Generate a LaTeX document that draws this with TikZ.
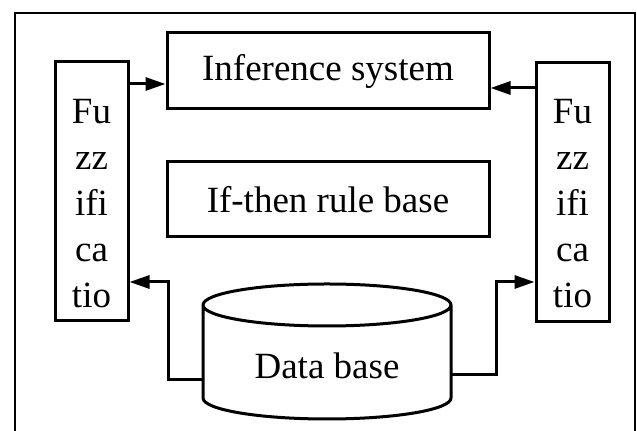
\documentclass[tikz,border=0pt]{standalone}
\usepackage{fontspec}
\setmainfont{Liberation Serif}
\usetikzlibrary{arrows.meta}
\begin{document}
\begin{tikzpicture}[x=0.5pt,y=-0.5pt,
  box/.style={draw,line width=1.5pt,rectangle,inner sep=0pt},
  lbl/.style={font=\fontsize{18.5}{23}\selectfont,inner sep=0pt,align=center},
  arr/.style={line width=1.5pt,-{Triangle[length=10pt,width=6.5pt]}},
  conn/.style={line width=1.5pt}]
\useasboundingbox (0,0) rectangle (637,431);
% outer frame (bottom edge outside the picture)
\draw[line width=1pt] (15,431) -- (15,13) -- (635,13) -- (635,431);
% fuzzification boxes
\node[box,minimum width=36.5pt,minimum height=129.5pt] (fl) at (91.5,191.5) {};
\node[lbl] (flt) at (91.5,204) {Fu\\zz\\ifi\\ca\\tio};
\node[box,minimum width=36.5pt,minimum height=129.5pt] (fr) at (572.5,192) {};
\node[lbl] (frt) at (572.5,204) {Fu\\zz\\ifi\\ca\\tio};
% inference and rule base
\node[box,lbl,minimum width=161pt,minimum height=38pt] (inf) at (328,71) {Inference system};
\node[box,lbl,minimum width=161pt,minimum height=37.5pt] (ifr) at (328,199.5) {If-then rule base};
% data base cylinder
\draw[line width=1.5pt,line join=round] (203,305) arc[start angle=180,end angle=0,x radius=124,y radius=21]
  -- (451,398) arc[start angle=0,end angle=180,x radius=124,y radius=21] -- cycle;
\draw[line width=1.5pt] (203,305) arc[start angle=180,end angle=360,x radius=124,y radius=21];
\node[lbl] (db) at (327,366) {Data base};
\coordinate (dbL) at (203,380);
\coordinate (dbR) at (451,375);
% levels
\coordinate (yA) at (0,84);
\coordinate (yB) at (0,88);
\coordinate (yC) at (0,282);
% connectors
\draw[arr] (fl.east |- yA) -- (inf.west |- yA);
\draw[arr] (fr.west |- yB) -- (inf.east |- yB);
\draw[arr] (dbL) -- ++(-35,0) |- (fl.east |- yC);
\draw[arr] (dbR) -- ++(45,0) |- (fr.west |- yC);
\end{tikzpicture}
\end{document}
